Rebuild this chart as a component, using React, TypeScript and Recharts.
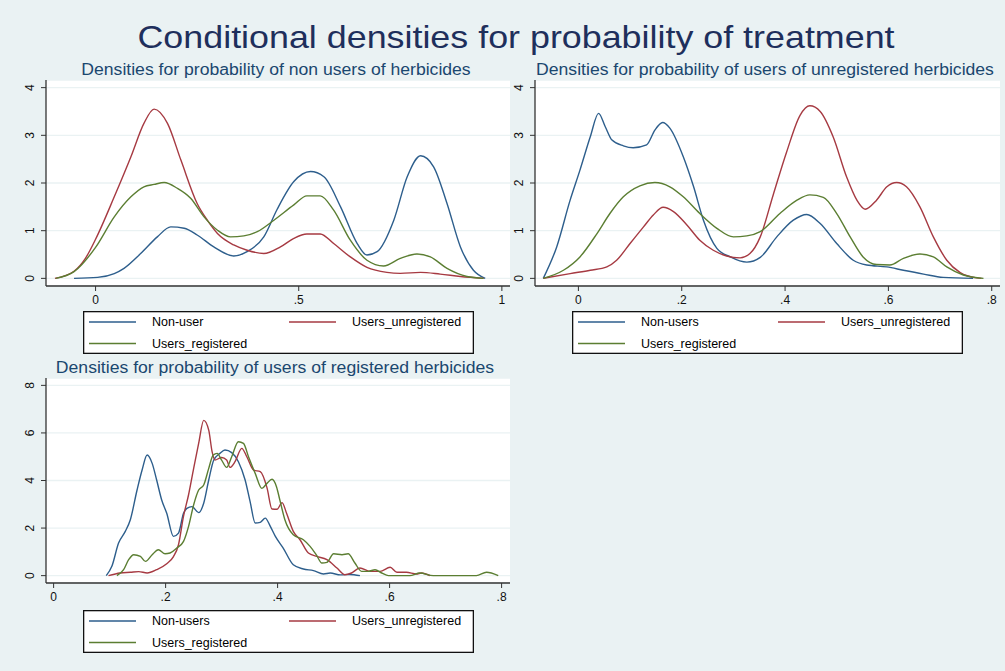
import React from 'react';
import { LineChart, Line, XAxis, YAxis, CartesianGrid, Legend } from 'recharts';

const FONT = '"Liberation Sans", Arial, Helvetica, sans-serif';
const BG = '#EAF2F3';
const TITLE_COLOR = '#1E2F5C';
const SUB_COLOR = '#1A476F';
const C_BLUE = '#2D5E8C';
const C_RED = '#A63A42';
const C_GREEN = '#5B7E32';

type Pt = [number, number];

// ---------- Panel 1: non users of herbicides ----------
const p1NonUser: Pt[] = [
  [-0.053, 0], [0.005, 0.02], [0.046, 0.1], [0.07, 0.21], [0.111, 0.52], [0.152, 0.87],
  [0.185, 1.08], [0.218, 1.05], [0.25, 0.91], [0.291, 0.66], [0.34, 0.47], [0.373, 0.56],
  [0.414, 0.87], [0.447, 1.45], [0.488, 2.03], [0.529, 2.24], [0.562, 2.13], [0.603, 1.5],
  [0.644, 0.73], [0.668, 0.49], [0.693, 0.56], [0.734, 1.22], [0.767, 2.13], [0.8, 2.57],
  [0.832, 2.34], [0.865, 1.57], [0.898, 0.66], [0.93, 0.17], [0.959, 0],
];
const p1Unreg: Pt[] = [
  [-0.1, 0], [-0.053, 0.15], [-0.025, 0.42], [0, 0.82], [0.046, 1.71], [0.087, 2.55],
  [0.119, 3.25], [0.144, 3.55], [0.177, 3.25], [0.21, 2.48], [0.25, 1.57], [0.275, 1.22],
  [0.3, 0.94], [0.34, 0.7], [0.373, 0.59], [0.414, 0.52], [0.455, 0.66], [0.488, 0.84],
  [0.52, 0.93], [0.553, 0.93], [0.586, 0.73], [0.627, 0.45], [0.668, 0.23], [0.717, 0.125],
  [0.75, 0.105], [0.8, 0.125], [0.848, 0.09], [0.898, 0.04], [0.955, 0],
];
const p1Reg: Pt[] = [
  [-0.098, 0], [-0.053, 0.14], [0, 0.65], [0.046, 1.29], [0.087, 1.71], [0.119, 1.92],
  [0.144, 1.97], [0.169, 2.01], [0.201, 1.89], [0.234, 1.68], [0.267, 1.29], [0.3, 1.01],
  [0.332, 0.87], [0.365, 0.89], [0.398, 0.98], [0.439, 1.22], [0.488, 1.54], [0.52, 1.73],
  [0.553, 1.73], [0.586, 1.43], [0.627, 0.8], [0.668, 0.38], [0.709, 0.26], [0.75, 0.42],
  [0.791, 0.51], [0.824, 0.45], [0.865, 0.21], [0.914, 0.04], [0.955, 0],
];

// ---------- Panel 2: users of unregistered herbicides ----------
const p2NonUser: Pt[] = [
  [-0.068, 0], [-0.042, 0.66], [-0.016, 1.64], [0.003, 2.27], [0.023, 2.97], [0.039, 3.46],
  [0.052, 3.18], [0.065, 2.9], [0.087, 2.78], [0.106, 2.74], [0.132, 2.8], [0.148, 3.11],
  [0.163, 3.27], [0.177, 3.15], [0.203, 2.55], [0.223, 1.92], [0.242, 1.22], [0.268, 0.63],
  [0.294, 0.45], [0.326, 0.34], [0.352, 0.44], [0.384, 0.87], [0.416, 1.22], [0.442, 1.34],
  [0.468, 1.15], [0.5, 0.73], [0.532, 0.38], [0.558, 0.28], [0.597, 0.24], [0.629, 0.17],
  [0.668, 0.09], [0.706, 0.02], [0.764, 0],
];
const p2Unreg: Pt[] = [
  [-0.068, 0], [-0.016, 0.1], [0.023, 0.17], [0.055, 0.24], [0.074, 0.38], [0.1, 0.73],
  [0.126, 1.08], [0.145, 1.33], [0.164, 1.49], [0.184, 1.4], [0.21, 1.12], [0.235, 0.8],
  [0.261, 0.59], [0.287, 0.47], [0.313, 0.43], [0.332, 0.52], [0.352, 0.87], [0.377, 1.75],
  [0.403, 2.65], [0.429, 3.42], [0.448, 3.62], [0.468, 3.5], [0.493, 2.97], [0.519, 2.13],
  [0.539, 1.64], [0.555, 1.45], [0.577, 1.64], [0.597, 1.92], [0.616, 2.01], [0.635, 1.92],
  [0.661, 1.5], [0.687, 0.87], [0.713, 0.38], [0.739, 0.12], [0.771, 0.01], [0.78, 0],
];
const p2Reg: Pt[] = [
  [-0.068, 0], [-0.029, 0.17], [0.003, 0.45], [0.036, 0.94], [0.061, 1.36], [0.087, 1.71],
  [0.119, 1.94], [0.148, 2.01], [0.177, 1.92], [0.203, 1.71], [0.235, 1.36], [0.268, 1.05],
  [0.3, 0.87], [0.326, 0.89], [0.352, 0.98], [0.39, 1.36], [0.423, 1.64], [0.448, 1.75],
  [0.474, 1.7], [0.5, 1.36], [0.526, 0.87], [0.551, 0.45], [0.577, 0.29], [0.603, 0.28],
  [0.629, 0.42], [0.661, 0.51], [0.687, 0.45], [0.713, 0.24], [0.745, 0.07], [0.784, 0],
];

// ---------- Panel 3: users of registered herbicides ----------
const p3NonUser: Pt[] = [
  [0.094, 0], [0.104, 0.39], [0.116, 1.37], [0.128, 1.86], [0.137, 2.35], [0.149, 3.6],
  [0.158, 4.44], [0.167, 5.07], [0.176, 4.72], [0.184, 4.02], [0.193, 3.18], [0.202, 2.62],
  [0.214, 1.65], [0.223, 1.79], [0.232, 2.62], [0.238, 2.83], [0.247, 2.9], [0.259, 2.65],
  [0.268, 3.04], [0.277, 4.02], [0.286, 4.86], [0.297, 5.14], [0.306, 5.28], [0.318, 5.17],
  [0.33, 4.79], [0.342, 4.02], [0.351, 3.1], [0.36, 2.21], [0.369, 2.24], [0.378, 2.42],
  [0.387, 2.07], [0.396, 1.65], [0.41, 1.16], [0.428, 0.46], [0.446, 0.28], [0.464, 0.21],
  [0.482, 0.07], [0.494, 0.11], [0.512, 0.03], [0.529, 0.05], [0.547, 0],
];
const p3Unreg: Pt[] = [
  [0.098, 0], [0.119, 0.11], [0.137, 0.14], [0.152, 0.17], [0.167, 0.11], [0.184, 0.25],
  [0.202, 0.5], [0.214, 0.8], [0.223, 1.3], [0.232, 2.5], [0.241, 3.4], [0.25, 4.5],
  [0.259, 5.56], [0.268, 6.53], [0.277, 6.12], [0.283, 5.21], [0.288, 4.86], [0.3, 4.97],
  [0.309, 4.86], [0.315, 4.55], [0.324, 4.79], [0.336, 5.35], [0.345, 5.0], [0.357, 4.44],
  [0.369, 4.37], [0.381, 3.7], [0.39, 2.8], [0.399, 2.79], [0.408, 3.07], [0.416, 2.62],
  [0.428, 1.86], [0.44, 1.51], [0.455, 0.95], [0.47, 0.81], [0.488, 0.67], [0.506, 0.32],
  [0.52, 0.04], [0.532, 0.11], [0.547, 0.32], [0.565, 0.18], [0.583, 0.18], [0.601, 0.35],
  [0.613, 0.14], [0.63, 0.14], [0.648, 0.07], [0.657, 0.11], [0.672, 0],
];
const p3Reg: Pt[] = [
  [0.113, 0], [0.125, 0.25], [0.134, 0.67], [0.143, 0.88], [0.155, 0.81], [0.164, 0.6],
  [0.176, 0.88], [0.187, 1.09], [0.199, 0.92], [0.208, 0.95], [0.22, 1.16], [0.232, 1.44],
  [0.241, 2.07], [0.25, 2.97], [0.259, 3.6], [0.268, 3.81], [0.277, 4.51], [0.285, 5.07],
  [0.292, 5.14], [0.3, 4.86], [0.309, 4.55], [0.318, 5.0], [0.33, 5.63], [0.339, 5.56],
  [0.348, 5.0], [0.36, 4.3], [0.372, 3.67], [0.381, 3.88], [0.39, 4.05], [0.398, 3.74],
  [0.404, 3.18], [0.413, 2.35], [0.428, 1.72], [0.446, 1.51], [0.458, 1.23], [0.47, 0.84],
  [0.479, 0.53], [0.488, 0.56], [0.5, 0.92], [0.515, 0.88], [0.526, 0.92], [0.538, 0.53],
  [0.55, 0.18], [0.562, 0.18], [0.574, 0.25], [0.586, 0.11], [0.598, 0], [0.636, 0],
  [0.654, 0.11], [0.678, 0], [0.755, 0], [0.773, 0.14], [0.794, 0],
];

// ---------- Ticks & labels ----------
const xTicks1 = [0, 0.5, 1];
const xTickLabels1 = ['0', '.5', '1'];
const xTicks23 = [0, 0.2, 0.4, 0.6, 0.8];
const xTickLabels23 = ['0', '.2', '.4', '.6', '.8'];
const yTicks12 = [0, 1, 2, 3, 4];
const yTicks3 = [0, 2, 4, 6, 8];

const mainTitle = 'Conditional densities for probability of treatment';
const subTitles = [
  'Densities for probability of non users of herbicides',
  'Densities for probability of users of unregistered herbicides',
  'Densities for probability of users of registered herbicides',
];
const seriesNames1 = ['Non-user', 'Users_unregistered', 'Users_registered'];
const seriesNames23 = ['Non-users', 'Users_unregistered', 'Users_registered'];

const COLORS = [C_BLUE, C_RED, C_GREEN];

const toRows = (pts: Pt[]) => pts.map(([x, y]) => ({ x, y }));

const makeXTick = (ticks: number[], labels: string[]) => (props: any) => {
  const { x, y, payload } = props;
  const i = ticks.findIndex((t) => Math.abs(t - payload.value) < 1e-9);
  return (
    <text x={x} y={y} dy="0.71em" textAnchor="middle" fontSize={12} fill="#111" fontFamily={FONT}>
      {i >= 0 ? labels[i] : String(payload.value)}
    </text>
  );
};

const YTick = (props: any) => {
  const { x, y, payload } = props;
  return (
    <text
      x={x}
      y={y}
      textAnchor="middle"
      fontSize={12}
      fill="#111"
      fontFamily={FONT}
      transform={`rotate(-90, ${x}, ${y})`}
    >
      {String(payload.value)}
    </text>
  );
};

const LEG_W = 391;
const LEG_H = 43;
const legendSlots = [
  { lx: 6, tx: 69, cy: 11 },
  { lx: 206, tx: 269, cy: 11 },
  { lx: 6, tx: 69, cy: 32.5 },
];

const makeLegend = (names: string[]) => () => (
  <svg width={LEG_W} height={LEG_H} style={{ display: 'block' }}>
    <rect x={0.65} y={0.65} width={LEG_W - 1.3} height={LEG_H - 1.3} fill="#ffffff" stroke="#111" strokeWidth={1.3} />
    {names.map((name, i) => (
      <g key={i}>
        <line
          x1={legendSlots[i].lx}
          x2={legendSlots[i].lx + 47}
          y1={legendSlots[i].cy}
          y2={legendSlots[i].cy}
          stroke={COLORS[i]}
          strokeWidth={1.5}
        />
        <text
          x={legendSlots[i].tx}
          y={legendSlots[i].cy}
          dy="0.35em"
          fontFamily={FONT}
          fontSize={12.5}
          fill="#000"
        >
          {name}
        </text>
      </g>
    ))}
  </svg>
);

type PanelProps = {
  left: number;
  top: number;
  width: number;
  height: number;
  marginTop: number;
  marginBottom: number;
  xDomain: [number, number];
  yDomain: [number, number];
  xTicks: number[];
  xLabels: string[];
  yTicks: number[];
  series: Pt[][];
  names: string[];
  legendLeft: number;
  legendTop: number;
};

const Panel = (p: PanelProps) => (
  <div style={{ position: 'absolute', left: p.left, top: p.top, width: p.width, height: p.height }}>
    <LineChart
      width={p.width}
      height={p.height}
      margin={{ top: p.marginTop, right: 10, left: 0, bottom: p.marginBottom }}
    >
      <CartesianGrid
        horizontal
        vertical={false}
        stroke={BG}
        strokeWidth={1.3}
        fill="#ffffff"
        fillOpacity={1}
      />
      <XAxis
        type="number"
        dataKey="x"
        domain={p.xDomain}
        ticks={p.xTicks}
        interval={0}
        allowDataOverflow
        height={30}
        tickSize={5}
        tickMargin={4}
        axisLine={{ stroke: '#333', strokeWidth: 1.3 }}
        tickLine={{ stroke: '#333', strokeWidth: 1 }}
        tick={makeXTick(p.xTicks, p.xLabels)}
      />
      <YAxis
        type="number"
        domain={p.yDomain}
        ticks={p.yTicks}
        interval={0}
        allowDataOverflow
        width={46}
        tickSize={5}
        tickMargin={7}
        axisLine={{ stroke: '#333', strokeWidth: 1.3 }}
        tickLine={{ stroke: '#333', strokeWidth: 1 }}
        tick={YTick}
      />
      {p.series.map((s, i) => (
        <Line
          key={i}
          data={toRows(s)}
          dataKey="y"
          name={p.names[i]}
          type="monotone"
          stroke={COLORS[i]}
          strokeWidth={1.4}
          dot={false}
          activeDot={false}
          isAnimationActive={false}
        />
      ))}
      <Legend
        layout="horizontal"
        verticalAlign="middle"
        align="center"
        content={makeLegend(p.names)}
        wrapperStyle={{ position: 'absolute', left: p.legendLeft, top: p.legendTop, width: LEG_W, height: LEG_H }}
      />
    </LineChart>
  </div>
);

const textCenter = (x: number, y: number, size: number, color: string, sx: number): React.CSSProperties => ({
  position: 'absolute',
  left: x,
  top: y,
  transform: `translate(-50%, -50%) scaleX(${sx})`,
  fontFamily: FONT,
  fontSize: size,
  lineHeight: 1,
  color,
  whiteSpace: 'nowrap',
});

export default function App() {
  return (
    <div
      style={{
        position: 'absolute',
        left: 0,
        top: 0,
        width: 1005,
        height: 671,
        background: BG,
        overflow: 'hidden',
      }}
    >
      <Panel
        left={0}
        top={0}
        width={520}
        height={360}
        marginTop={80}
        marginBottom={44}
        xDomain={[-0.122, 1.02]}
        yDomain={[-0.16, 4.16]}
        xTicks={xTicks1}
        xLabels={xTickLabels1}
        yTicks={yTicks12}
        series={[p1NonUser, p1Unreg, p1Reg]}
        names={seriesNames1}
        legendLeft={83}
        legendTop={311}
      />
      <Panel
        left={489}
        top={0}
        width={521}
        height={360}
        marginTop={80}
        marginBottom={44}
        xDomain={[-0.084, 0.816]}
        yDomain={[-0.16, 4.16]}
        xTicks={xTicks23}
        xLabels={xTickLabels23}
        yTicks={yTicks12}
        series={[p2NonUser, p2Unreg, p2Reg]}
        names={seriesNames23}
        legendLeft={83}
        legendTop={311}
      />
      <Panel
        left={0}
        top={300}
        width={520}
        height={360}
        marginTop={78}
        marginBottom={47}
        xDomain={[-0.0136, 0.815]}
        yDomain={[-0.31, 8.31]}
        xTicks={xTicks23}
        xLabels={xTickLabels23}
        yTicks={yTicks3}
        series={[p3NonUser, p3Unreg, p3Reg]}
        names={seriesNames23}
        legendLeft={83}
        legendTop={310}
      />
      <div style={textCenter(515.5, 37, 32, TITLE_COLOR, 1.12)}>{mainTitle}</div>
      <div style={textCenter(276, 69.5, 16, SUB_COLOR, 1.1)}>{subTitles[0]}</div>
      <div style={textCenter(764.7, 69.5, 16, SUB_COLOR, 1.1)}>{subTitles[1]}</div>
      <div style={textCenter(275.3, 367.7, 16, SUB_COLOR, 1.1)}>{subTitles[2]}</div>
    </div>
  );
}
